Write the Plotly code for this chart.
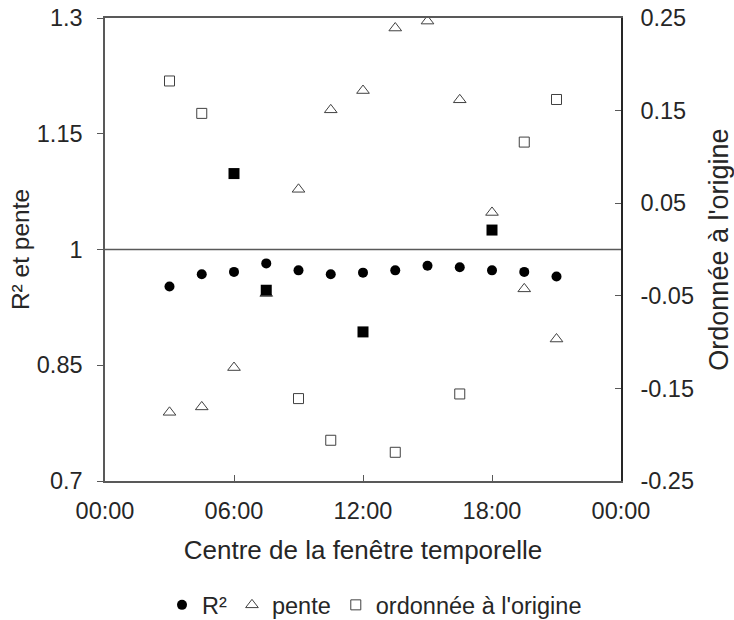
import plotly.graph_objects as go

# ---- data ----
hours = [3, 4.5, 6, 7.5, 9, 10.5, 12, 13.5, 15, 16.5, 18, 19.5, 21]
r2 = [0.952, 0.968, 0.971, 0.982, 0.973, 0.968, 0.970, 0.973, 0.979, 0.977, 0.973, 0.971, 0.965]
pente = [0.789, 0.796, 0.847, 0.943, 1.078, 1.181, 1.206, 1.287, 1.296, 1.194, 1.048, 0.949, 0.884]
ordonnee = [0.182, 0.147, 0.082, -0.044, -0.161, -0.206, -0.089, -0.219, None, -0.156, 0.021, 0.116, 0.162]
ordonnee_pleine = [False, False, True, True, False, False, True, False, False, False, True, False, False]

x_tickvals = [0, 6, 12, 18, 24]
x_ticktext = ["00:00", "06:00", "12:00", "18:00", "00:00"]
y1_tickvals = [0.7, 0.85, 1.0, 1.15, 1.3]
y1_ticktext = ["0.7", "0.85", "1", "1.15", "1.3"]
y2_tickvals = [-0.25, -0.15, -0.05, 0.05, 0.15, 0.25]
y2_ticktext = ["-0.25", "-0.15", "-0.05", "0.05", "0.15", "0.25"]
ref_line = 1.0

ord_open = [v if not f else None for v, f in zip(ordonnee, ordonnee_pleine)]
ord_full = [v if f else None for v, f in zip(ordonnee, ordonnee_pleine)]

AX = "#595959"
MK = "#404040"
TXT = "#262626"
FONT = "Liberation Sans, Arial, sans-serif"

fig = go.Figure()
fig.add_trace(go.Scatter(x=hours, y=r2, mode="markers", name="R²",
                         marker=dict(symbol="circle", size=10, color="black")))
fig.add_trace(go.Scatter(x=hours, y=pente, mode="markers", name="pente",
                         marker=dict(symbol="triangle-up-open", size=11, color=MK,
                                     line=dict(width=1, color=MK))))
fig.add_trace(go.Scatter(x=hours, y=ord_open, mode="markers", name="ordonnée à l'origine",
                         yaxis="y2",
                         marker=dict(symbol="square-open", size=10, color=MK,
                                     line=dict(width=1, color=MK))))
fig.add_trace(go.Scatter(x=hours, y=ord_full, mode="markers", name="ordonnée à l'origine",
                         yaxis="y2", showlegend=False,
                         marker=dict(symbol="square", size=11, color="black")))

fig.add_hline(y=ref_line, line=dict(color=AX, width=1.3), layer="below")

fig.update_layout(
    template="none",
    width=734, height=620,
    margin=dict(l=105, r=113, t=18, b=139, autoexpand=False),
    paper_bgcolor="white", plot_bgcolor="white",
    font=dict(family=FONT, size=23.5, color=TXT),
    xaxis=dict(range=[0, 24], tickvals=x_tickvals, ticktext=x_ticktext, automargin=False,
               showgrid=False, zeroline=False, showline=True, linecolor=AX, linewidth=1.5,
               mirror=True, ticks="inside", ticklen=6, tickcolor=AX,
               ticklabelstandoff=8, tickfont=dict(size=23.5),
               title=dict(text="Centre de la fenêtre temporelle", font=dict(size=26), standoff=18)),
    yaxis=dict(range=[0.7, 1.3], tickvals=y1_tickvals, ticktext=y1_ticktext, automargin=False,
               showgrid=False, zeroline=False, showline=True, linecolor=AX, linewidth=1.5,
               ticks="outside", ticklen=6, tickcolor=AX, ticklabelstandoff=10,
               tickfont=dict(size=23.5),
               title=dict(text="R² et pente", font=dict(size=24.5), standoff=0)),
    yaxis2=dict(range=[-0.25, 0.25], tickvals=y2_tickvals, ticktext=y2_ticktext,
                overlaying="y", side="right", automargin=False,
                showgrid=False, zeroline=False, showline=True, linecolor=TXT, linewidth=1.5,
                ticks="inside", ticklen=6, tickcolor=AX, ticklabelstandoff=13,
                tickfont=dict(size=23.5),
                title=dict(text="Ordonnée à l'origine", font=dict(size=27), standoff=18)),
    legend=dict(orientation="h", x=(162 - 105) / 516, xanchor="left", y=-0.268, yanchor="middle",
                font=dict(size=23.5), itemwidth=30, bgcolor="rgba(0,0,0,0)"),
    showlegend=True,
)

fig.write_html("out.html", config={"displayModeBar": False},
               post_script="document.body.style.margin='0';")
